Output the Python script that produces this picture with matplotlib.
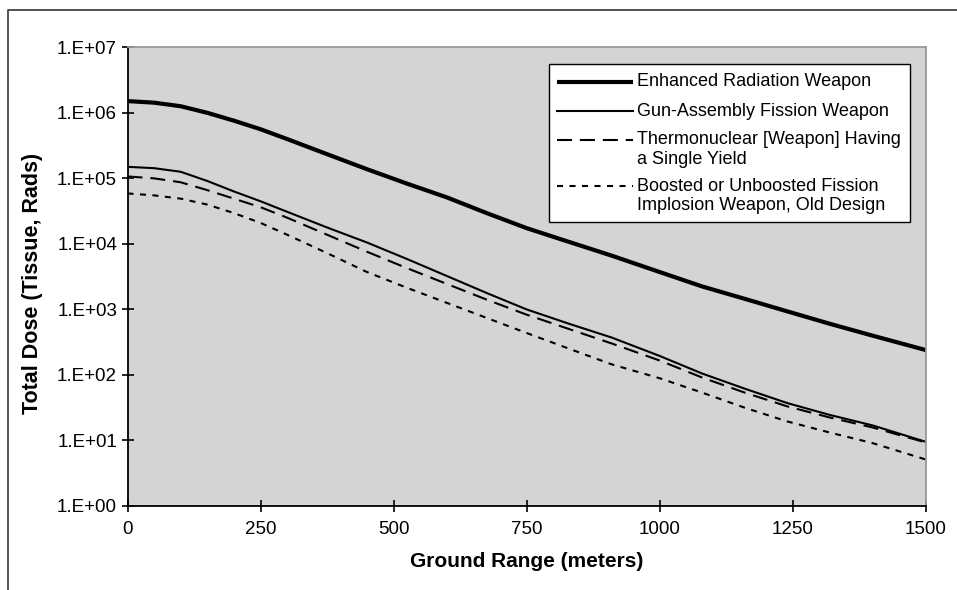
import matplotlib
matplotlib.use("Agg")
import matplotlib.pyplot as plt
from matplotlib.lines import Line2D
from matplotlib.patches import Rectangle
from matplotlib.ticker import FixedLocator, NullLocator

plt.rcParams["font.family"] = ["Liberation Sans", "DejaVu Sans"]

# ground range (m) where the curves were read
ground_range = [0, 50, 100, 150, 200, 250, 300, 375, 450, 525, 600, 675,
                750, 830, 910, 1000, 1080, 1160, 1240, 1320, 1400, 1500]

# total dose (rads)
enhanced_radiation = [1.51e6, 1.43e6, 1.26e6, 1.0e6, 7.59e5, 5.62e5, 3.98e5,
                      2.34e5, 1.38e5, 8.32e4, 5.13e4, 2.95e4, 1.74e4, 1.07e4,
                      6.61e3, 3.72e3, 2.24e3, 1.45e3, 933, 603, 398, 240]
gun_assembly = [1.50e5, 1.43e5, 1.26e5, 9.12e4, 6.31e4, 4.47e4, 3.09e4,
                1.78e4, 1.05e4, 5.89e3, 3.24e3, 1.78e3, 1.0e3, 603, 372,
                195, 105, 61.7, 37.2, 24.5, 17.0, 9.55]
thermonuclear = [1.07e5, 1.0e5, 8.71e4, 6.61e4, 4.90e4, 3.63e4, 2.51e4,
                 1.38e4, 7.59e3, 4.27e3, 2.45e3, 1.41e3, 832, 501, 302,
                 166, 91.2, 53.7, 33.1, 22.4, 15.8, 9.33]
boosted_fission = [5.89e4, 5.50e4, 4.90e4, 3.98e4, 2.95e4, 2.09e4, 1.38e4,
                   7.24e3, 3.72e3, 2.14e3, 1.26e3, 741, 437, 251, 145,
                   89.1, 53.7, 31.6, 19.5, 13.2, 9.12, 5.13]

series = [enhanced_radiation, gun_assembly, thermonuclear, boosted_fission]
labels = [
    "Enhanced Radiation Weapon",
    "Gun-Assembly Fission Weapon",
    "Thermonuclear [Weapon] Having\na Single Yield",
    "Boosted or Unboosted Fission\nImplosion Weapon, Old Design",
]
x_ticks = [0, 250, 500, 750, 1000, 1250, 1500]
y_ticks = [1e0, 1e1, 1e2, 1e3, 1e4, 1e5, 1e6, 1e7]
y_tick_labels = ["1.E+00", "1.E+01", "1.E+02", "1.E+03",
                 "1.E+04", "1.E+05", "1.E+06", "1.E+07"]

styles = [
    dict(color="black", lw=3.0, solid_capstyle="butt"),
    dict(color="black", lw=1.5),
    dict(color="black", lw=1.5, dashes=(7.2, 3.8)),
    dict(color="black", lw=1.5, dashes=(2.9, 3.1)),
]

W, H = 957, 590
AX_L, AX_R, AX_T, AX_B = 127.5, 925.7, 47.3, 506.0


def to_axes(px, py):
    # image pixel -> axes fraction
    return (px - AX_L) / (AX_R - AX_L), 1 - (py - AX_T) / (AX_B - AX_T)


fig = plt.figure(figsize=(W / 100, H / 100), dpi=100)
ax = fig.add_axes([AX_L / W, 1 - AX_B / H, (AX_R - AX_L) / W, (AX_B - AX_T) / H])
ax.set_facecolor("#d4d4d4")

for values, style in zip(series, styles):
    ax.plot(ground_range, values, **style)

ax.set_yscale("log")
ax.set_xlim(0, 1500)
ax.set_ylim(1, 1e7)
ax.xaxis.set_major_locator(FixedLocator(x_ticks))
ax.set_xticklabels([str(v) for v in x_ticks])
ax.yaxis.set_major_locator(FixedLocator(y_ticks))
ax.yaxis.set_minor_locator(NullLocator())
ax.set_yticklabels(y_tick_labels)
ax.tick_params(axis="both", direction="inout", length=9, width=1.2,
               color="black", labelsize=13.5, pad=3)
ax.tick_params(axis="x", pad=6)

for side in ("left", "bottom"):
    ax.spines[side].set_color("black")
    ax.spines[side].set_linewidth(1.3)
for side in ("top", "right"):
    ax.spines[side].set_color("#999999")
    ax.spines[side].set_linewidth(1.3)

ax.set_xlabel("Ground Range (meters)", fontsize=15, fontweight="bold")
ax.set_ylabel("Total Dose (Tissue, Rads)", fontsize=15.5, fontweight="bold")
ax.xaxis.set_label_coords(0.5, -0.100)
ax.yaxis.set_label_coords(-0.106, 0.486)

# legend box drawn by hand: Excel puts the sample line on the first text line
x0, y0 = to_axes(549, 222)
x1, y1 = to_axes(910, 64)
ax.add_patch(Rectangle((x0, y0), x1 - x0, y1 - y0, transform=ax.transAxes,
                       facecolor="white", edgecolor="black", lw=1.0, zorder=5))
row_y = [[81.7], [111.0], [140.0, 159.5], [186.5, 206.0]]
for label, style, rows in zip(labels, styles, row_y):
    hx0, hy = to_axes(557, rows[0])
    hx1, _ = to_axes(633, rows[0])
    ax.add_line(Line2D([hx0, hx1], [hy, hy], transform=ax.transAxes,
                       zorder=6, **style))
    for text, py in zip(label.split("\n"), rows):
        tx, ty = to_axes(637, py)
        ax.text(tx, ty, text, transform=ax.transAxes, fontsize=13,
                ha="left", va="center", zorder=6)

# outer chart-area frame (cut at the right and bottom edges of the image)
fig.add_artist(Line2D([8 / W, 8 / W, 1.0], [0.0, 1 - 10 / H, 1 - 10 / H],
                      transform=fig.transFigure, color="#444444", lw=1.3))

fig.savefig("out.png", dpi=100)
